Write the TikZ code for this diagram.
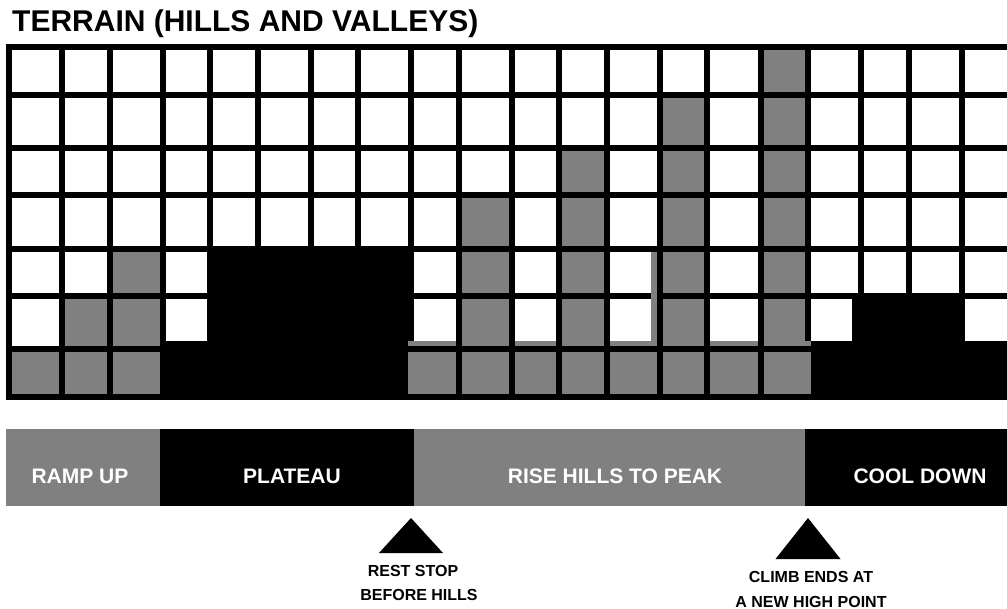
\documentclass[tikz,border=0pt]{standalone}
\usepackage{fontspec}
\setmainfont{Liberation Sans}
\definecolor{midgray}{RGB}{128,128,128}
\def\LL{{6,59,107,160,207,255,308,355,408,456,509,556,604,657,704,758,805,858,906,959,1012}}
\def\RR{{44,92,145,192,246,293,346,394}}
\newcommand\terrcell[3]{%
  \pgfmathsetmacro\xa{\LL[#1-1]+6}%
  \pgfmathsetmacro\xb{\LL[#1]}%
  \pgfmathsetmacro\ya{\RR[#2-1]+6}%
  \pgfmathsetmacro\yb{\RR[#2]}%
  \fill[#3] (\xa,\ya) rectangle (\xb,\yb);}
\begin{document}
\begin{tikzpicture}[x=1pt,y=-1pt,
  cellw/.style={fill=white},
  cellg/.style={fill=midgray},
  blk/.style={fill=black},
  gstrip/.style={fill=midgray},
  seg/.style={minimum height=77pt, inner sep=0pt, outer sep=0pt, anchor=north west, draw=none},
  legtxt/.style={font=\bfseries\fontsize{21}{21}\selectfont, text=white, anchor=base, inner sep=0pt},
  marktxt/.style={font=\bfseries\fontsize{16}{16}\selectfont, text=black, anchor=base, inner sep=0pt},
  marker/.style={fill=black}]
\useasboundingbox (0,0) rectangle (1007,609);
\clip (0,0) rectangle (1007,609);
\fill[white] (0,0) rectangle (1007,609);
% title
\node[anchor=base west, inner sep=0pt, font=\bfseries\fontsize{30}{30}\selectfont] (title) at (12,31.5) {TERRAIN (HILLS AND VALLEYS)};
% grid
\fill[black] (6,44) rectangle (1012,400);
\foreach \c in {1,...,20}{\foreach \r in {1,...,7}{\terrcell{\c}{\r}{cellw}}}
\foreach \c/\r in {16/1,14/2,16/2,12/3,14/3,16/3,10/4,12/4,14/4,16/4,3/5,10/5,12/5,14/5,16/5,2/6,3/6,10/6,12/6,14/6,16/6,1/7,2/7,3/7,9/7,10/7,11/7,12/7,13/7,14/7,15/7,16/7}{\terrcell{\c}{\r}{cellg}}
% plateau (black)
\fill[blk] (207,246) rectangle (414,341);
\fill[blk] (160,341) rectangle (408,394);
% cool down (black)
\fill[blk] (852,299) rectangle (965,341);
\fill[blk] (811,341) rectangle (1012,394);
% hills ground strips (gray)
\fill[gstrip] (408,341) rectangle (456,346);
\fill[gstrip] (515,341) rectangle (556,346);
\fill[gstrip] (610,341) rectangle (657,346);
\fill[gstrip] (710,341) rectangle (758,346);
\fill[gstrip] (764,341) rectangle (811,346);
\fill[gstrip] (651,252) rectangle (657,346);
\fill[gstrip] (408,352) rectangle (414,394);
\fill[gstrip] (805,352) rectangle (811,394);
% legend bar
\node[seg, fill=midgray, minimum width=154pt] (ramp) at (6,429) {};
\node[seg, fill=black, minimum width=254pt] (plat) at (160,429) {};
\node[seg, fill=midgray, minimum width=391pt] (hills) at (414,429) {};
\node[seg, fill=black, minimum width=207pt] (cool) at (805,429) {};
\node[legtxt] (t1) at (80,483) {RAMP UP};
\node[legtxt] (t2) at (292,483) {PLATEAU};
\node[legtxt] (t3) at (615,483) {RISE HILLS TO PEAK};
\node[legtxt] (t4) at (920,483) {COOL DOWN};
% markers
\coordinate (m1) at (411,518);
\coordinate (m2) at (808,518);
\fill[marker] (m1) -- ++(32,35) -- ++(-64,0) -- cycle;
\fill[marker] (m2) -- ++(32.5,41) -- ++(-65,0) -- cycle;
\node[marktxt] (l1a) at (413,576) {REST STOP};
\node[marktxt] (l1b) at (419,600) {BEFORE HILLS};
\node[marktxt] (l2a) at (811,582) {CLIMB ENDS AT};
\node[marktxt] (l2b) at (811,607) {A NEW HIGH POINT};
\end{tikzpicture}
\end{document}
